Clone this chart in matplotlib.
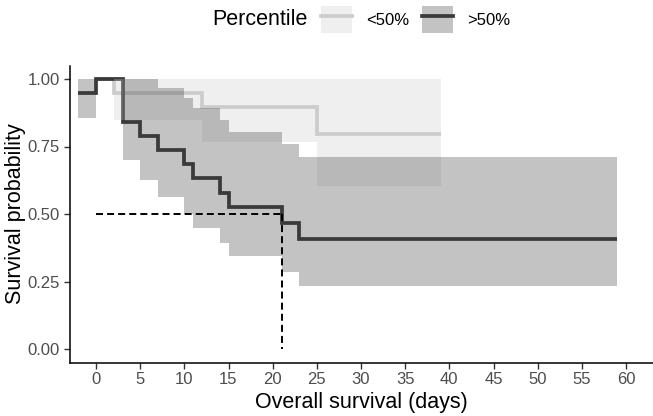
import matplotlib
matplotlib.use("Agg")
import matplotlib.pyplot as plt
from matplotlib.patches import Patch
from matplotlib.lines import Line2D

plt.rcParams['font.family'] = ['Liberation Sans', 'DejaVu Sans']

# group >50% (dark)
hi_time = [-2, 0, 3, 5, 7, 10, 11, 14, 15, 21, 23, 59]
hi_surv = [0.947, 1.0, 0.842, 0.789, 0.737, 0.684, 0.632, 0.579, 0.526, 0.468, 0.409, 0.409]
hi_upper = [1.0, 1.0, 1.0, 1.0, 0.966, 0.928, 0.892, 0.848, 0.805, 0.76, 0.71, 0.71]
hi_lower = [0.855, 1.0, 0.70, 0.626, 0.563, 0.50, 0.448, 0.392, 0.344, 0.287, 0.235, 0.235]

# group <50% (light)
lo_time = [0, 2, 12, 25, 39]
lo_surv = [1.0, 0.947, 0.897, 0.797, 0.797]
lo_upper = [1.0, 1.0, 1.0, 1.0, 1.0]
lo_lower = [1.0, 0.85, 0.768, 0.604, 0.604]

median_time = 21
median_surv = 0.5

x_ticks = list(range(0, 61, 5))
y_ticks = [0.0, 0.25, 0.5, 0.75, 1.0]
y_ticklabels = ["0.00", "0.25", "0.50", "0.75", "1.00"]

lo_col = "#cccccc"
hi_col = "#3a3a3a"
line_w = 2.7

fig = plt.figure(figsize=(6.53, 4.16), dpi=100)
ax = fig.add_axes([69.5 / 653, 1 - 362.5 / 416, 583 / 653, 297 / 416])

# lines first, ribbons drawn over them (as in ggsurvplot)
ax.step(lo_time, lo_surv, where='post', color=lo_col, lw=line_w, zorder=2,
        solid_capstyle='butt', solid_joinstyle='miter')
ax.step(hi_time, hi_surv, where='post', color=hi_col, lw=line_w, zorder=2,
        solid_capstyle='butt', solid_joinstyle='miter')
ax.fill_between(lo_time, lo_lower, lo_upper, step='post', color=lo_col,
                alpha=0.3, lw=0, zorder=3)
ax.fill_between(hi_time, hi_lower, hi_upper, step='post', color=hi_col,
                alpha=0.3, lw=0, zorder=3)

# median survival
ax.plot([0, median_time], [median_surv, median_surv], color='black', lw=1.4,
        ls=(0, (3.6, 2.1)), zorder=4)
ax.plot([median_time, median_time], [median_surv, 0], color='black', lw=1.4,
        ls=(0, (3.6, 2.1)), zorder=4)

ax.set_xlim(-3, 63)
ax.set_ylim(-0.05, 1.05)
ax.set_xticks(x_ticks)
ax.set_yticks(y_ticks)
ax.set_yticklabels(y_ticklabels)

for s in ['top', 'right']:
    ax.spines[s].set_visible(False)
for s in ['left', 'bottom']:
    ax.spines[s].set_linewidth(1.1)
    ax.spines[s].set_color('black')
ax.tick_params(length=4.3, width=1.0, color='#333333', labelcolor='#4d4d4d',
               labelsize=12, pad=2.5)

ax.set_xlabel("Overall survival (days)", fontsize=15.5)
ax.set_ylabel("Survival probability", fontsize=15.5)
ax.xaxis.set_label_coords(0.5, -0.099)
ax.yaxis.set_label_coords(-0.0746, 0.5)

# legend on top
fig.text(212.5 / 653, 1 - 19.6 / 416, "Percentile", fontsize=15.5,
         ha='left', va='center')
handles = [
    (Patch(facecolor=lo_col, alpha=0.3, lw=0), Line2D([], [], color=lo_col, lw=line_w)),
    (Patch(facecolor=hi_col, alpha=0.3, lw=0), Line2D([], [], color=hi_col, lw=line_w)),
]
fig.legend(handles, ["<50%", ">50%"], loc='center left',
           bbox_to_anchor=(321 / 653, 1 - 19.6 / 416), ncol=2, frameon=False,
           fontsize=12, handlelength=1.86, handleheight=2.1,
           handletextpad=0.84, columnspacing=0.78, borderpad=0,
           borderaxespad=0, labelcolor='black')

fig.savefig("out.png", dpi=100)
